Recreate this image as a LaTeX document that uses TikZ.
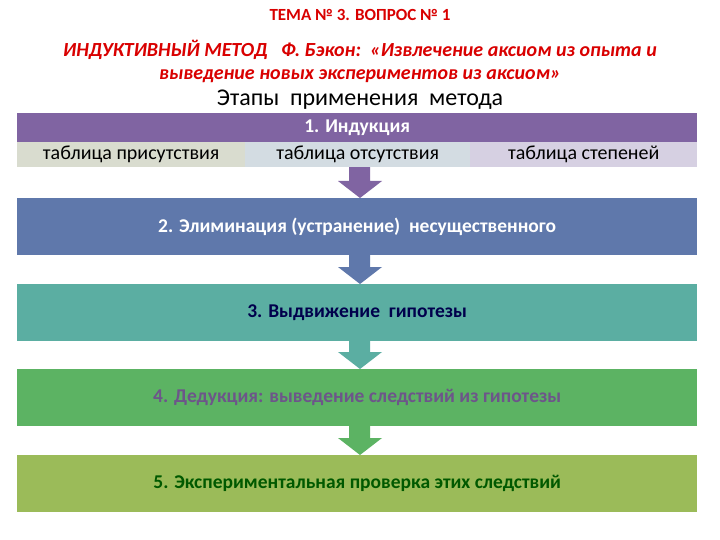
\documentclass[tikz,border=0pt]{standalone}
\usepackage{fontspec}
\setmainfont{Carlito}
\begin{document}
\begin{tikzpicture}[x=1pt,y=-1pt,
  bar/.style={draw=none,minimum width=680pt,anchor=north west,inner sep=0pt,font=\bfseries\fontsize{19.5}{22}\selectfont},
  sub/.style={draw=none,anchor=north west,inner sep=0pt,minimum height=25pt,font=\fontsize{20}{22}\selectfont},
  ttl/.style={text=red!85!black,font=\bfseries\itshape\fontsize{20}{23}\selectfont}]
\definecolor{cPur}{HTML}{8064A2}
\definecolor{cBlue}{HTML}{5F78AB}
\definecolor{cTeal}{HTML}{5BAEA2}
\definecolor{cGreen}{HTML}{5CB363}
\definecolor{cOlive}{HTML}{9BBB59}
\definecolor{cS1}{HTML}{D9DCCF}
\definecolor{cS2}{HTML}{D3DCE2}
\definecolor{cS3}{HTML}{D6D0E2}
\useasboundingbox (0,0) rectangle (720,540);
\fill[white] (0,0) rectangle (720,540);
\node[text=red!85!black,font=\bfseries\fontsize{17}{19}\selectfont] (t0) at (360,15) {ТЕМА № 3. ВОПРОС № 1};
\node[ttl] (t1) at (360,50) {ИНДУКТИВНЫЙ МЕТОД\ \ \ Ф. Бэкон:\ \ «Извлечение аксиом из опыта и};
\node[ttl] (t2) at (360,76) {выведение новых экспериментов из аксиом»};
\node[font=\fontsize{24}{26}\selectfont] (t3) at (360,100) {Этапы\ \ применения\ \ метода};
% arrows
\foreach \ya/\yb/\c in {167/198/cPur,255/284/cBlue,341/369/cTeal,426/455/cGreen}{
  \fill[\c] (349,\ya) -- (370,\ya) -- (370,\yb-17) -- (382,\yb-17) -- (360,\yb) -- (338,\yb-17) -- (349,\yb-17) -- cycle;}
\node[bar,fill=cPur,text=white,minimum height=30pt] (b1) at (17,113) {1. Индукция};
\node[sub,fill=cS1,minimum width=228pt] (s1) at (17,142) {таблица присутствия};
\node[sub,fill=cS2,minimum width=225pt] (s2) at (245,142) {таблица отсутствия};
\node[sub,fill=cS3,minimum width=227pt] (s3) at (470,142) {таблица степеней};
\node[bar,fill=cBlue,text=white,minimum height=57pt] (b2) at (17,198) {2. Элиминация (устранение)\ \ несущественного};
\node[bar,fill=cTeal,text=blue!30!black,minimum height=57pt] (b3) at (17,284) {3. Выдвижение\ \ гипотезы};
\node[bar,fill=cGreen,text=cPur!85!black,minimum height=57pt] (b4) at (17,369) {4. Дедукция: выведение следствий из гипотезы};
\node[bar,fill=cOlive,text=green!35!black,minimum height=57pt] (b5) at (17,455) {5. Экспериментальная проверка этих следствий};
\end{tikzpicture}
\end{document}
